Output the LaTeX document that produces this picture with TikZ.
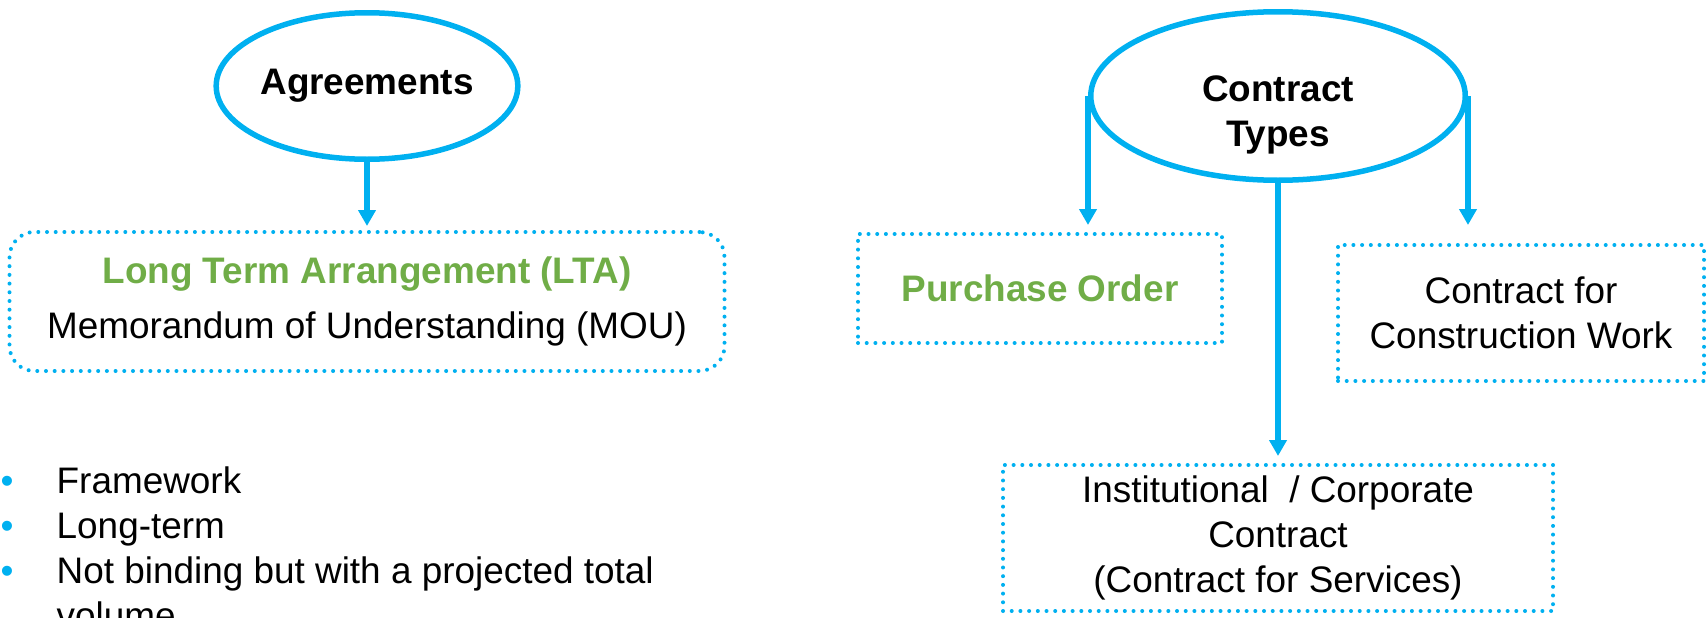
\documentclass[tikz,border=0pt]{standalone}
\usepackage{fontspec}
\setmainfont{Liberation Sans}
\usepackage{xcolor}
\usetikzlibrary{arrows.meta,positioning,shapes.geometric}
\definecolor{ctblue}{RGB}{0,176,240}
\definecolor{ctgreen}{RGB}{112,173,71}

\begin{document}
\fontsize{10.5}{12.8}\selectfont
\begin{tikzpicture}[
  x=0.1mm, y=-0.1mm,
  topic/.style={draw=ctblue, line width=0.55mm, ellipse, inner sep=0pt, align=center, font=\bfseries},
  dotbox/.style={draw=ctblue, line width=0.4mm, dash pattern=on 0pt off 0.87mm, line cap=round, inner sep=0pt, align=center},
  link/.style={draw=ctblue, line width=0.55mm, -{Triangle[width=1.7mm,length=1.6mm]}},
  pointlist/.style={inner sep=0pt, anchor=north west}
]
\useasboundingbox (0,0) rectangle (1708,617);
% agreements
\node[topic, minimum width=29.45mm, minimum height=14.65mm] (agr) at (367,86) {Agreements};
\node[dotbox, rounded corners=2.5mm, minimum width=71.5mm, minimum height=13.9mm, below=6.8mm of agr] (lta)
  {\textcolor{ctgreen}{\bfseries Long Term Arrangement (LTA)}\\[1mm]Memorandum of Understanding (MOU)};
\node[pointlist] (pts) at (0,461) {\begin{tabular}{@{}p{5.6mm}@{}l@{}}
  \textcolor{ctblue}{\textbullet} & Framework\\
  \textcolor{ctblue}{\textbullet} & Long-term\\
  \textcolor{ctblue}{\textbullet} & Not binding but with a projected total\\
  & volume
\end{tabular}};
% contract types
\node[topic, minimum width=37.45mm, minimum height=16.85mm] (ct) at (1278,96) {\rule{0pt}{6.3mm}Contract\\Types};
\node[dotbox, minimum width=36.4mm, minimum height=10.9mm] (po) at (1040,288.5) {\textcolor{ctgreen}{\bfseries Purchase Order}};
\node[dotbox, minimum width=36.6mm, minimum height=13.6mm] (cw) at (1521,313) {Contract for\\Construction Work};
\node[dotbox, minimum width=55mm, minimum height=14.6mm, below=28mm of ct] (ic) {Institutional~ / Corporate\\Contract\\(Contract for Services)};

\draw[link, shorten >=0.4mm] (agr) -- (lta);
\draw[link, shorten >=0.7mm] (ct.west) -- (ct.west |- po.north);
\draw[link, shorten >=1.8mm] (ct.east) -- (ct.east |- cw.north);
\draw[link, shorten >=0.7mm] (ct.south) -- (ic.north);
\end{tikzpicture}
\end{document}
